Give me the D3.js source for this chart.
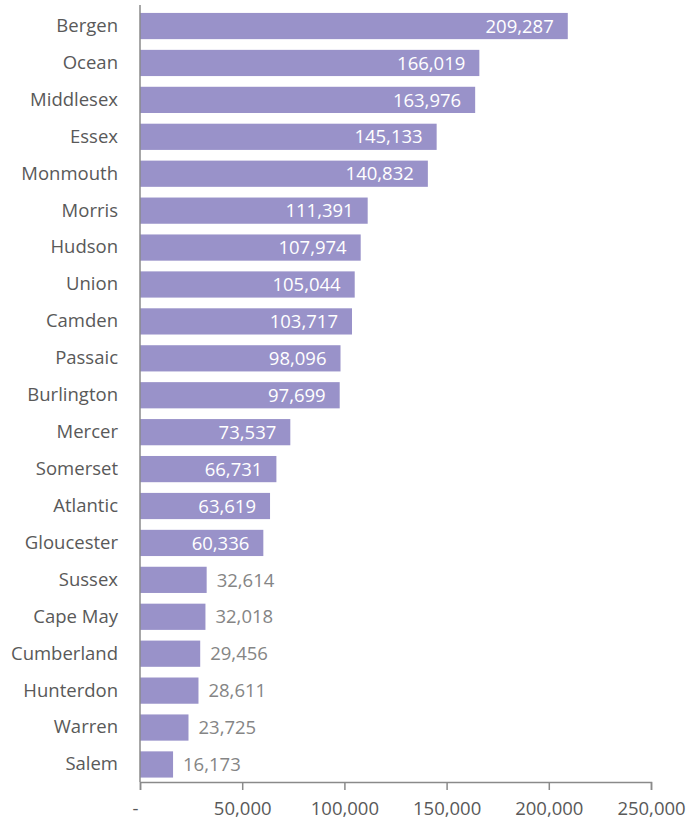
<!DOCTYPE html>
<html>
<head>
<meta charset="utf-8">
<script src="https://cdn.jsdelivr.net/npm/d3@7"></script>
<style>
  html, body { margin: 0; padding: 0; background: #ffffff; }
  svg { display: block; }
  text { font-family: "Open Sans", Lato, sans-serif; }
</style>
</head>
<body>
<svg id="chart" width="689" height="821"></svg>
<script>
// New Jersey counties, ranked
const counties = ["Bergen", "Ocean", "Middlesex", "Essex", "Monmouth", "Morris", "Hudson",
  "Union", "Camden", "Passaic", "Burlington", "Mercer", "Somerset", "Atlantic",
  "Gloucester", "Sussex", "Cape May", "Cumberland", "Hunterdon", "Warren", "Salem"];
const values = [209287, 166019, 163976, 145133, 140832, 111391, 107974,
  105044, 103717, 98096, 97699, 73537, 66731, 63619,
  60336, 32614, 32018, 29456, 28611, 23725, 16173];
const xTicks = [0, 50000, 100000, 150000, 200000, 250000];

const svg = d3.select("#chart");
const plotLeft = 140, plotRight = 651, plotTop = 5, plotBottom = 782;
const fontFamily = "'Open Sans', Lato, sans-serif";
const fontSize = 18.5;

const x = d3.scaleLinear().domain([0, 250000]).range([plotLeft, plotRight]);
const y = d3.scaleBand().domain(counties).range([plotTop + 3.5, plotBottom])
  .paddingInner(0.29).paddingOuter(0.12);

const data = counties.map((c, i) => ({ county: c, value: values[i] }));
const fmt = d3.format(",");
const insideMin = 50000;

// bars
svg.append("g").selectAll("rect").data(data).join("rect")
  .attr("x", x(0))
  .attr("y", d => y(d.county))
  .attr("width", d => x(d.value) - x(0))
  .attr("height", y.bandwidth())
  .attr("fill", "#9992c9");

// value labels: inside the bar end for long bars, after it for short ones
svg.append("g").selectAll("text").data(data).join("text")
  .attr("x", d => d.value >= insideMin ? x(d.value) - 14 : x(d.value) + 10)
  .attr("y", d => y(d.county) + y.bandwidth() / 2)
  .attr("dy", "0.36em")
  .attr("text-anchor", d => d.value >= insideMin ? "end" : "start")
  .attr("fill", d => d.value >= insideMin ? "#ffffff" : "#858585")
  .attr("font-size", fontSize)
  .text(d => fmt(d.value));

// category axis
const yAxis = svg.append("g")
  .attr("transform", `translate(${plotLeft},0)`)
  .call(d3.axisLeft(y).tickSize(0).tickPadding(22));
yAxis.select(".domain").remove();
yAxis.selectAll("text")
  .attr("font-size", fontSize)
  .attr("fill", "#595959")
  .attr("font-family", fontFamily);

svg.append("line")
  .attr("x1", plotLeft).attr("x2", plotLeft)
  .attr("y1", plotTop).attr("y2", plotBottom)
  .attr("stroke", "#8a8a8a").attr("stroke-width", 1.5);

// value axis
const xAxis = svg.append("g")
  .attr("transform", `translate(0,${plotBottom})`)
  .call(d3.axisBottom(x).tickValues(xTicks).tickSize(8).tickPadding(12)
    .tickFormat(v => v === 0 ? "-" : fmt(v)));
xAxis.select(".domain")
  .attr("stroke", "#8a8a8a").attr("stroke-width", 1.5);
xAxis.selectAll(".tick line").attr("stroke", "#8a8a8a").attr("stroke-width", 1.5);
xAxis.selectAll("text")
  .attr("font-size", fontSize)
  .attr("fill", "#595959")
  .attr("font-family", fontFamily)
  .attr("dx", v => v === 0 ? -5 : 0);
</script>
</body>
</html>
